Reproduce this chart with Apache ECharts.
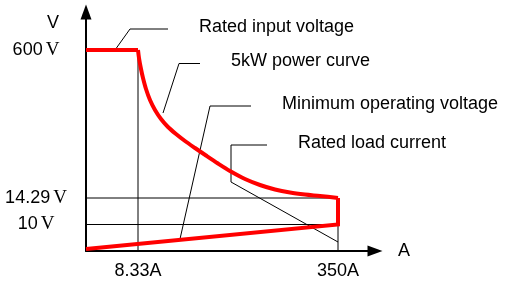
<!DOCTYPE html>
<html>
<head>
<meta charset="utf-8">
<script src="https://cdn.jsdelivr.net/npm/echarts@6/dist/echarts.min.js"></script>
<style>
  html, body { margin: 0; padding: 0; background: #fff; }
  #chart { width: 509px; height: 283px; }
</style>
</head>
<body>
<div id="chart"></div>
<script>
// schematic drawing: axis units are positions on the sketch, not real amps / volts
const xTickPos = [52, 252]
const xTickLabels = ['8.33A', '350A']
const yTickPos = [26.5, 53, 201]
const yTickLabels = ['10', '14.29', '600']

// operating envelope (red): 600 V plateau, 5 kW curve, 350 A limit + min voltage line
const plateau = [[0, 201], [52, 201]]
const powerCurve = [
  [52, 201], [53, 193], [55, 182], [57, 173], [60, 162], [64, 151], [69, 141],
  [75, 132], [82, 124], [90, 117], [99, 110], [109, 103], [120, 95.5], [132, 87.5],
  [144, 80], [159, 72], [174, 66], [189, 61.5], [204, 58.5], [219, 56.5], [234, 55], [252, 53]
]
const limitLines = [[252, 53], [252, 26.5], [0, 2]]

// thin reference lines
const refLines = [
  [[0, 53], [252, 53]],
  [[0, 26.5], [252, 26.5]],
  [[52, 201], [52, 0]],
  [[252, 53], [252, 0]]
]

// leader lines and their notes
const notes = ['Rated input voltage', '5kW power curve', 'Minimum operating voltage', 'Rated load current']
const leaders = [
  [[29, 201], [44, 222], [82, 222]],
  [[77, 138], [93, 187.5], [114, 187.5]],
  [[94, 12], [124, 145], [165, 145]],
  [[252, 9], [145, 69], [145, 106], [181, 106]]
]

const sans = 'Arial, "Liberation Sans", sans-serif'
const serif = '"Times New Roman", "Liberation Serif", serif'

const chart = echarts.init(document.getElementById('chart'))

const series = []
refLines.forEach(d => {
  series.push({
    type: 'line', data: d, symbol: 'none', silent: true,
    lineStyle: { color: '#000', width: 1 }
  })
})
leaders.forEach((d, i) => {
  series.push({
    type: 'line', data: d, symbol: 'none', silent: true,
    lineStyle: { color: '#000', width: 1 },
    endLabel: {
      show: true, formatter: notes[i], distance: 31, offset: [0, -2],
      color: '#000', fontFamily: sans, fontSize: 18
    }
  })
})
const red = { color: '#ff0000', width: 4, join: 'miter' }
series.push({ type: 'line', data: plateau, symbol: 'none', silent: true, z: 5, lineStyle: red })
series.push({
  type: 'line', data: powerCurve, symbol: 'none', silent: true, z: 5,
  smooth: 0.3, lineStyle: red
})
series.push({ type: 'line', data: limitLines, symbol: 'none', silent: true, z: 5, lineStyle: red })

chart.setOption({
  animation: false,
  backgroundColor: '#fff',
  grid: { left: 86, right: 134, top: 12, bottom: 32 },
  xAxis: {
    type: 'value', min: 0, max: 289,
    axisLine: {
      show: true, onZero: false, symbol: ['none', 'triangle'], symbolSize: [11, 15],
      lineStyle: { color: '#000', width: 2 }
    },
    axisTick: { show: false },
    splitLine: { show: false },
    axisLabel: {
      customValues: xTickPos, margin: 11,
      formatter: v => xTickLabels[xTickPos.indexOf(v)] || '',
      color: '#000', fontFamily: sans, fontSize: 18
    }
  },
  yAxis: {
    type: 'value', min: 0, max: 239,
    axisLine: {
      show: true, onZero: false, symbol: ['none', 'triangle'], symbolSize: [11, 15],
      lineStyle: { color: '#000', width: 2 }
    },
    axisTick: { show: false },
    splitLine: { show: false },
    axisLabel: {
      customValues: yTickPos, margin: 50, align: 'center',
      formatter: v => '{n|' + (yTickLabels[yTickPos.indexOf(v)] || '') + '}{u|V}',
      rich: {
        n: { color: '#000', fontFamily: sans, fontSize: 18 },
        u: { color: '#000', fontFamily: serif, fontSize: 19, padding: [0, 0, 0, 3] }
      }
    }
  },
  graphic: [
    { type: 'text', left: 47, top: 14, style: { text: 'V', fill: '#000', font: '18px ' + sans } },
    { type: 'text', left: 398, top: 242, style: { text: 'A', fill: '#000', font: '18px ' + sans } }
  ],
  series
})
</script>
</body>
</html>
